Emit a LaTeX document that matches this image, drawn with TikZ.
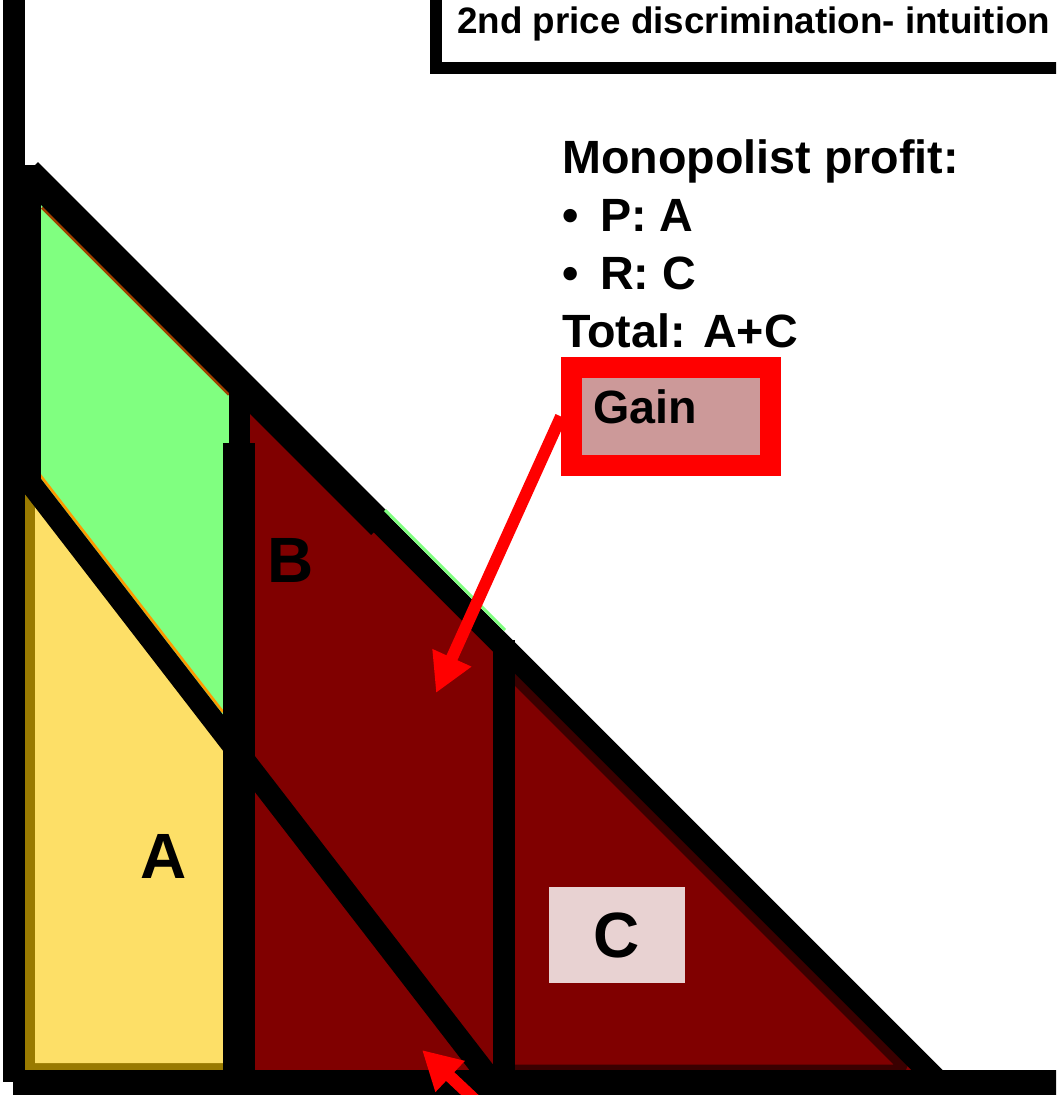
\documentclass[tikz,border=0pt]{standalone}
\usepackage{fontspec}
\setmainfont{Liberation Sans}
\usepackage{xcolor}
\usepackage{tikz}
\usetikzlibrary{arrows.meta,positioning,calc}

\definecolor{gainred}{RGB}{255,0,0}
\definecolor{gainfill}{RGB}{204,153,153}
\definecolor{maroon}{RGB}{128,0,0}
\definecolor{deepmaroon}{RGB}{58,0,0}
\definecolor{lightgreen}{RGB}{128,255,128}
\definecolor{sand}{RGB}{253,223,103}
\definecolor{shadowgold}{RGB}{153,122,0}
\definecolor{cbox}{RGB}{232,210,210}
\definecolor{rust}{RGB}{160,64,0}
\definecolor{amber}{RGB}{255,153,0}

\begin{document}
\begin{tikzpicture}[
  x={(0.75pt,0)}, y={(0,-0.75pt)},
  blackbar/.style={draw=black, line width=#1},
  blackbar/.default=16.5pt,
  lbl/.style={inner sep=0pt, font=\fontsize{48}{50}\selectfont\bfseries},
  txt/.style={anchor=base west, inner sep=0pt, font=\fontsize{35}{40}\selectfont\bfseries},
  gainbox/.style={draw=gainred, line width=15.75pt, fill=gainfill, minimum width=149.25pt, minimum height=73.5pt,
    inner xsep=16.1pt, text width=117pt, align=left, text depth=15pt, font=\fontsize{35}{40}\selectfont\bfseries},
  gainarrow/.style={draw=gainred, line width=9pt, -{Triangle[length=29pt, width=30pt]}},
]
\useasboundingbox (0,0) rectangle (1056,1095);
\clip (0,0) rectangle (1056,1095);

% areas
\fill[maroon] (239,374) -- (951,1086) -- (239,1086) -- cycle;
\filldraw[fill=maroon, draw=deepmaroon, line width=6.75pt, line join=bevel] (504,668.5) -- (904.5,1069) -- (504,1069) -- cycle;
\fill[lightgreen] (40,170) -- (240,370) -- (240,760) -- (40,480) -- cycle;
\fill[shadowgold] (25,480) -- (240,760) -- (240,1072) -- (25,1072) -- cycle;
\fill[sand] (35,480) -- (240,760) -- (240,1063) -- (35,1063) -- cycle;
\draw[rust, line width=2.25pt] (42,207.5) -- (229,394.5);
\draw[amber, line width=2pt] (40,475) -- (223,712);

% axes and curves
\draw[blackbar] (14,-10) -- (14,1082);
\draw[blackbar=14.25pt] (31.5,165) -- (31.5,485);
\draw[blackbar=19.5pt] (13,1083) -- (1070,1083);
\draw[blackbar=21pt] (28,172) -- (381,525);
\draw[blackbar] (340,483) -- (950,1093);
\draw[blackbar] (20,469.7) -- (498,1089);
\draw[blackbar=15.75pt] (239.5,390) -- (239.5,1083);
\draw[blackbar=24pt] (239,443) -- (239,1083);
\draw[blackbar] (504,640) -- (504,1083);
\draw[lightgreen, line width=2.25pt] (385,510) -- (505,630);

% area labels
\node[lbl] (labA) at (164,856) {A};
\node[lbl] (labB) at (291,560) {B};
\node[lbl, fill=cbox, minimum width=102pt, minimum height=72pt] (labC) at (617,935) {C};

% title
\draw[line width=9pt] (436,-30) rectangle (1100,68);
\node[anchor=base west, inner sep=0pt, font=\fontsize{27.6}{30}\selectfont\bfseries] (title) at (457,34) {2nd price discrimination- intuition};

% profit text
\node[txt] (profit) at (562,173) {Monopolist profit:};
\node[txt] (pline) at (562,231) {\makebox[28.5pt][l]{\textbullet}P: A};
\node[txt] (rline) at (562,289) {\makebox[28.5pt][l]{\textbullet}R: C};
\node[txt] (total) at (562,347) {Total: A+C};

% gain box and arrows
\coordinate (gaintip) at (436,693);
\coordinate (foottail) at (490,1114);
\coordinate (foottip) at (422,1050);
\node[gainbox] (gain) at (671,416.5) {Gain};
\draw[gainarrow] (gain.west) -- (gaintip);
\draw[gainarrow] (foottail) -- (foottip);
\end{tikzpicture}
\end{document}
